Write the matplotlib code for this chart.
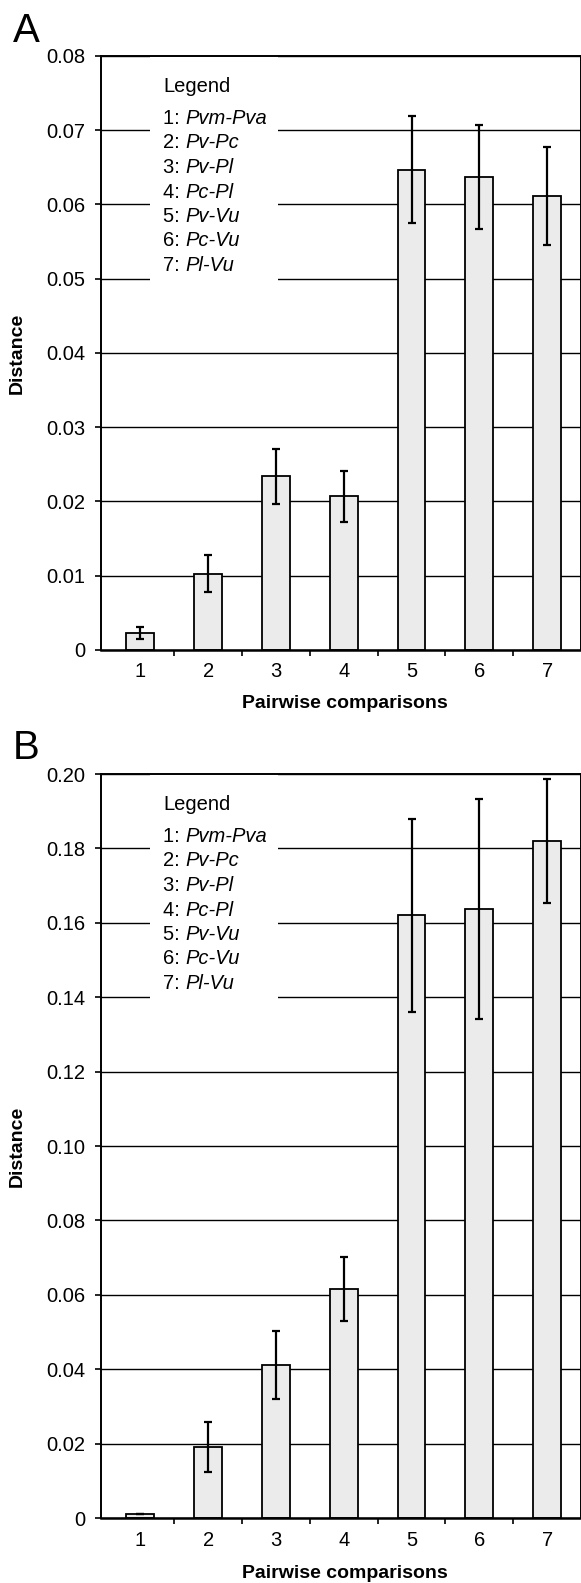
import matplotlib
matplotlib.use("Agg")
import matplotlib.pyplot as plt
from matplotlib.patches import Rectangle
from matplotlib.ticker import FixedLocator, FuncFormatter

plt.rcParams['font.family'] = ['Liberation Sans', 'DejaVu Sans']

# data
categories = [1, 2, 3, 4, 5, 6, 7]
pairs_num = ["1: ", "2: ", "3: ", "4: ", "5: ", "6: ", "7: "]
pairs_name = ["Pvm-Pva", "Pv-Pc", "Pv-Pl", "Pc-Pl", "Pv-Vu", "Pc-Vu", "Pl-Vu"]

dist_a = [0.0023, 0.0103, 0.0234, 0.0207, 0.0647, 0.0637, 0.0611]
err_a = [0.0008, 0.0025, 0.0037, 0.0034, 0.0072, 0.0070, 0.0066]

dist_b = [0.0010, 0.0192, 0.0412, 0.0615, 0.1620, 0.1637, 0.1820]
err_b = [0.0, 0.0067, 0.0091, 0.0086, 0.0260, 0.0295, 0.0166]

W, H = 581, 1583
fig = plt.figure(figsize=(W / 100, H / 100), dpi=100)

FS = 14.5


def px(x, y):
    # pixel position -> figure fraction
    return x / W, 1 - y / H


def draw_panel(top, bottom, vals, errs, ymax, ystep, fmt, letter, letter_base, xlab_off):
    left = 101
    ax = fig.add_axes([left / W, 1 - bottom / H, 1 - left / W, (bottom - top) / H])
    ax.set_axisbelow(True)
    ax.bar(categories, vals, width=0.41, color='#ebebeb', edgecolor='black',
           linewidth=1.3, zorder=2)
    ax.errorbar(categories, vals, yerr=errs, fmt='none', ecolor='black',
                elinewidth=1.6, capsize=3.2, capthick=1.6, zorder=3)
    ax.set_xlim(0.42, 7.5)
    ax.set_ylim(0, ymax)
    nt = int(round(ymax / ystep))
    ax.set_yticks([i * ystep for i in range(nt + 1)])
    ax.yaxis.set_major_formatter(FuncFormatter(lambda v, p: "0" if v == 0 else fmt % v))
    ax.yaxis.grid(True, color='black', linewidth=1.0)
    ax.set_xticks(categories)
    ax.xaxis.set_minor_locator(FixedLocator([1.5, 2.5, 3.5, 4.5, 5.5, 6.5]))
    ax.tick_params(axis='x', which='major', length=0, pad=9, labelsize=FS)
    ax.tick_params(axis='x', which='minor', length=4, width=1.2, direction='out')
    ax.tick_params(axis='y', length=4, width=1.2, direction='out', pad=7, labelsize=FS)
    for s in ax.spines.values():
        s.set_linewidth(1.4)
    ax.spines['bottom'].set_linewidth(1.8)

    # white legend box over the grid
    box_bottom = top + (232 if ymax < 0.1 else 234)
    ax.add_patch(Rectangle(((150 - left) / (W - left), (bottom - box_bottom) / (bottom - top)),
                           128 / (W - left), 1.0, transform=ax.transAxes,
                           facecolor='white', edgecolor='none', zorder=1))

    # legend text
    lx = 163
    fig.text(*px(lx, top + 36), "Legend", fontsize=FS, va='baseline')
    for i in range(7):
        t = fig.text(*px(lx, top + 72 + i * 24.5), pairs_num[i], fontsize=FS, va='bottom')
        ax.annotate(pairs_name[i], xy=(1, 0), xycoords=t, fontsize=FS,
                    style='italic', va='bottom', ha='left')

    fig.text(*px(13, letter_base), letter, fontsize=29, va='baseline')
    fig.text(*px(17, (top + bottom) / 2), "Distance", fontsize=14, fontweight='bold',
             rotation=90, va='center', ha='center')
    fig.text(*px(345, bottom + xlab_off), "Pairwise comparisons", fontsize=14,
             fontweight='bold', va='center', ha='center')
    return ax


draw_panel(56, 650, dist_a, err_a, 0.08, 0.01, "%.2f", "A", 42, 53)
draw_panel(774, 1518, dist_b, err_b, 0.20, 0.02, "%.2f", "B", 759, 56)

fig.savefig("out.png", dpi=100)
